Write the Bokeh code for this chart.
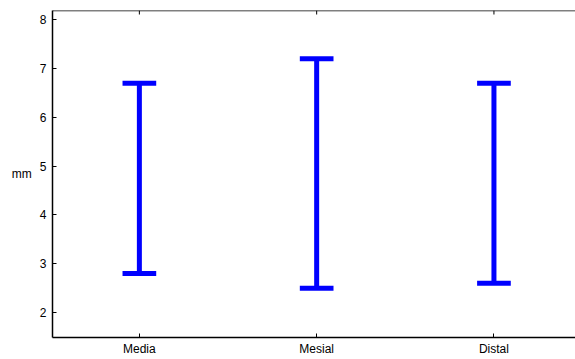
import math
from bokeh.plotting import figure
from bokeh.models import Range1d, FixedTicker, Span
from bokeh.embed import file_html
from bokeh.resources import INLINE

categories = ["Media", "Mesial", "Distal"]
lows = [2.8, 2.5, 2.6]
highs = [6.7, 7.2, 6.7]
y_ticks = [2, 3, 4, 5, 6, 7, 8]

xs = list(range(len(categories)))
cap_half = 0.095
x_start, x_end = -0.49, 2.46
y_start, y_end = 1.49, 8.19

p = figure(width=575, height=359, output_backend="svg", toolbar_location=None,
           x_range=Range1d(x_start, x_end), y_range=Range1d(y_start, y_end),
           min_border_left=52, min_border_right=0, min_border_top=10, min_border_bottom=22)
p.grid.visible = False
p.background_fill_color = "white"
p.border_fill_color = "white"
p.outline_line_color = None

color = "#0000ff"
p.segment(x0=xs, y0=lows, x1=xs, y1=highs, line_color=color, line_width=5)
p.segment(x0=[x - cap_half for x in xs], y0=lows, x1=[x + cap_half for x in xs], y1=lows,
          line_color=color, line_width=5)
p.segment(x0=[x - cap_half for x in xs], y0=highs, x1=[x + cap_half for x in xs], y1=highs,
          line_color=color, line_width=5)

# top frame line and inward ticks on top
p.add_layout(Span(location=y_end, dimension="width", line_color="black", line_width=1.5))
p.ray(x=xs, y=[y_end] * len(xs), length=4, length_units="screen", angle=-math.pi / 2,
      line_color="black", line_width=1)

def style(ax):
    ax.major_tick_in = 4
    ax.major_tick_out = 0
    ax.minor_tick_line_color = None
    ax.axis_line_color = "black"
    ax.axis_line_width = 1.5
    ax.major_tick_line_color = "black"
    ax.major_label_text_font = "Liberation Sans"
    ax.major_label_text_font_size = "12px"
    ax.major_label_text_color = "black"

xa = p.xaxis[0]
xa.ticker = FixedTicker(ticks=xs)
xa.major_label_overrides = {i: c for i, c in enumerate(categories)}
style(xa)
xa.major_label_standoff = 4

ya = p.yaxis[0]
ya.ticker = FixedTicker(ticks=y_ticks)
style(ya)
ya.major_label_standoff = 6
ya.axis_label = "mm"
ya.axis_label_orientation = "horizontal"
ya.axis_label_text_font = "Liberation Sans"
ya.axis_label_text_font_size = "12px"
ya.axis_label_text_font_style = "normal"
ya.axis_label_text_color = "black"
ya.axis_label_text_baseline = "bottom"
ya.axis_label_standoff = 5

open("out.html", "w").write(file_html(p, INLINE))
